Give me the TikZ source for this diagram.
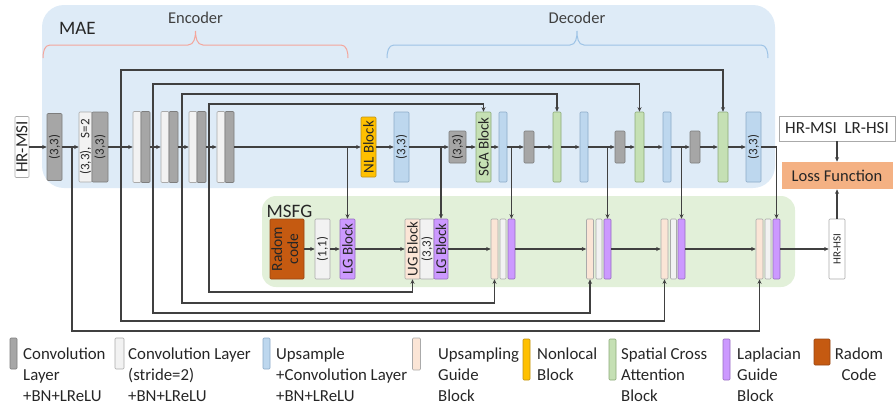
\documentclass[tikz,border=0pt]{standalone}
\usepackage{fontspec}
\setmainfont{Carlito}
\usepackage{graphicx}
\usetikzlibrary{arrows.meta}
\newcommand{\vtext}[1]{\rotatebox{90}{#1}}
\newcommand{\fsz}[1]{\fontsize{#1}{#1}\selectfont}

\definecolor{cMAE}{RGB}{222,235,247}
\definecolor{cMSFG}{RGB}{226,240,217}
\definecolor{cWire}{RGB}{64,64,64}
\definecolor{cConv}{RGB}{166,166,166}
\definecolor{cConvD}{RGB}{125,125,125}
\definecolor{cLight}{RGB}{242,242,242}
\definecolor{cLightD}{RGB}{170,170,170}
\definecolor{cUp}{RGB}{189,215,238}
\definecolor{cUpD}{RGB}{140,170,200}
\definecolor{cNL}{RGB}{255,192,0}
\definecolor{cNLD}{RGB}{190,145,20}
\definecolor{cSCA}{RGB}{197,224,180}
\definecolor{cSCAD}{RGB}{140,170,120}
\definecolor{cLG}{RGB}{204,153,255}
\definecolor{cLGD}{RGB}{150,110,190}
\definecolor{cUG}{RGB}{251,229,214}
\definecolor{cRC}{RGB}{197,90,17}
\definecolor{cRCD}{RGB}{150,70,20}
\definecolor{cLoss}{RGB}{244,177,131}
\definecolor{cEnc}{RGB}{244,165,155}
\definecolor{cDec}{RGB}{157,195,230}

\begin{document}
\begin{tikzpicture}[x=1pt,y=-1pt,>={Stealth[length=4.5pt,width=4pt]},
  wire/.style={draw=cWire,line width=1.2pt},
  blk/.style={line width=0.6pt,rounded corners=1pt,inner sep=0pt,font=\fsz{13},text=black!85},
  convblk/.style={blk,fill=cConv,draw=cConvD},
  lightblk/.style={blk,fill=cLight,draw=cLightD},
  upblk/.style={blk,fill=cUp,draw=cUpD},
  nlblk/.style={blk,fill=cNL,draw=cNLD,font=\fsz{15}},
  scablk/.style={blk,fill=cSCA,draw=cSCAD,font=\fsz{15}},
  lgblk/.style={blk,fill=cLG,draw=cLGD,font=\fsz{15}},
  ugblk/.style={blk,fill=cUG,draw=cLightD,font=\fsz{15}},
  rcblk/.style={blk,fill=cRC,draw=cRCD},
  ioblk/.style={blk,fill=white,draw=cLightD},
  legtext/.style={anchor=north west,inner sep=0pt,align=left,font=\fontsize{16.8}{21}\selectfont,text=black!85}]
  \useasboundingbox (0,0) rectangle (896,407);
  % regions
  \fill[cMAE,rounded corners=22] (42,5) rectangle (775,188);
  \fill[cMSFG,rounded corners=14] (262,196) rectangle (795,287);
  \node[font=\fsz{19},anchor=base,text=black!85] (mae) at (77.5,34) {MAE};
  \node[font=\fsz{16.5},anchor=base,text=black!75] (enc) at (195.5,23) {Encoder};
  \node[font=\fsz{16.5},anchor=base,text=black!75] (dec) at (577,23) {Decoder};
  \node[font=\fsz{19},anchor=base,text=black!85] (msfg) at (289.5,217) {MSFG};
  \draw[cEnc,line width=1pt] (43,58) to[out=90,in=180] (50,45) -- (188,45) to[out=0,in=-90] (195.5,31)
     to[out=-90,in=180] (203,45) -- (341,45) to[out=0,in=90] (348,58);
  \draw[cDec,line width=1pt] (387,58) to[out=90,in=180] (394,45) -- (570,45) to[out=0,in=-90] (577,31)
     to[out=-90,in=180] (584,45) -- (761,45) to[out=0,in=90] (768,58);

  % encoder
  \node[ioblk,minimum width=14,minimum height=61,font=\fsz{17}] (in) at (22,147) {\vtext{HR-MSI}};
  \node[convblk,minimum width=15,minimum height=67] (c1) at (54.5,147) {\vtext{(3,3)}};
  \node[lightblk,minimum width=13,minimum height=70] (b2a) at (85.5,147) {\vtext{(3,3),\ \ \ S=2}};
  \node[convblk,minimum width=16,minimum height=70] (b2) at (100,147) {\vtext{(3,3)}};
  \node[lightblk,minimum width=8,minimum height=71] (b3a) at (137,147) {};
  \node[convblk,minimum width=9,minimum height=71] (b3) at (145.5,147) {};
  \node[lightblk,minimum width=8,minimum height=71] (b4a) at (165,147) {};
  \node[convblk,minimum width=9,minimum height=71] (b4) at (173.5,147) {};
  \node[lightblk,minimum width=8,minimum height=71] (b5a) at (193,147) {};
  \node[convblk,minimum width=9,minimum height=71] (b5) at (201.5,147) {};
  \node[lightblk,minimum width=8,minimum height=71] (b6a) at (221,147) {};
  \node[convblk,minimum width=9,minimum height=71] (b6) at (229.5,147) {};

  % decoder
  \node[nlblk,minimum width=15,minimum height=60] (nl) at (368.5,147) {\vtext{NL Block}};
  \node[upblk,minimum width=15,minimum height=70] (up1) at (401.5,147) {\vtext{(3,3)}};
  \node[convblk,minimum width=17,minimum height=32] (cv1) at (457.5,147) {\vtext{(3,3)}};
  \node[scablk,minimum width=15,minimum height=70] (sca) at (483.5,147) {\vtext{SCA Block}};
  \node[upblk,minimum width=8,minimum height=70] (up2) at (503,147) {};
  \node[convblk,minimum width=10,minimum height=32] (cv2) at (529,147) {};
  \node[scablk,minimum width=8,minimum height=70] (sa2) at (557,147) {};
  \node[upblk,minimum width=8,minimum height=70] (up3) at (584,147) {};
  \node[convblk,minimum width=10,minimum height=32] (cv3) at (620,147) {};
  \node[scablk,minimum width=9,minimum height=70] (sa3) at (639.5,147) {};
  \node[upblk,minimum width=8,minimum height=70] (up4) at (667,147) {};
  \node[convblk,minimum width=10,minimum height=32] (cv4) at (695,147) {};
  \node[scablk,minimum width=10,minimum height=70] (sa4) at (723,147) {};
  \node[upblk,minimum width=15,minimum height=70] (up5) at (753.5,147) {\vtext{(3,3)}};

  % MSFG
  \node[rcblk,minimum width=34,minimum height=60] (rc) at (287,249)
     {\vtext{\fontsize{15.5}{16}\selectfont\begin{tabular}{@{}c@{}}Radom\\code\end{tabular}}};
  \node[lightblk,minimum width=15,minimum height=60] (c11) at (322.5,249) {\vtext{(1,1)}};
  \node[lgblk,minimum width=15,minimum height=60] (lg1) at (347.5,249) {\vtext{LG Block}};
  \node[ugblk,minimum width=15,minimum height=60] (ug1) at (412.5,249) {\vtext{UG Block}};
  \node[lightblk,minimum width=14,minimum height=60] (c33) at (427,249) {\vtext{(3,3)}};
  \node[lgblk,minimum width=14,minimum height=60] (lg2) at (441,249) {\vtext{LG Block}};
  \node[ugblk,minimum width=7,minimum height=60] (u2) at (494.5,249) {};
  \node[lightblk,minimum width=6,minimum height=60] (g2) at (503,249) {};
  \node[lgblk,minimum width=7,minimum height=60] (l2) at (511.5,249) {};
  \node[ugblk,minimum width=7,minimum height=60] (u3) at (590,249) {};
  \node[lightblk,minimum width=6,minimum height=60] (g3) at (599,249) {};
  \node[lgblk,minimum width=7,minimum height=60] (l3) at (607.5,249) {};
  \node[ugblk,minimum width=7,minimum height=60] (u4) at (664.5,249) {};
  \node[lightblk,minimum width=6,minimum height=60] (g4) at (673.5,249) {};
  \node[lgblk,minimum width=7,minimum height=60] (l4) at (681.5,249) {};
  \node[ugblk,minimum width=7,minimum height=60] (u5) at (759.5,249) {};
  \node[lightblk,minimum width=6,minimum height=60] (g5) at (768,249) {};
  \node[lgblk,minimum width=7,minimum height=60] (l5) at (776.5,249) {};

  % output side
  \node[ioblk,minimum width=16,minimum height=60,font=\fsz{11}] (hrhsi) at (837,249) {\vtext{HR-HSI}};
  \node[ioblk,rounded corners=0pt,minimum width=116,minimum height=25,font=\fsz{17}] (pair) at (837,128.5) {HR-MSI\ \ LR-HSI};
  \node[blk,rounded corners=0pt,fill=cLoss,minimum width=111,minimum height=27,font=\fsz{16.5}] (loss) at (837,175.5) {Loss Function};

  % taps on the main line
  \coordinate (e0) at (72,147);
  \coordinate (e1) at (121,147);
  \coordinate (e2) at (153,147);
  \coordinate (e3) at (182,147);
  \coordinate (e4) at (209,147);
  \coordinate (d1) at (347.5,147);
  \coordinate (d2) at (441,147);
  \coordinate (d3) at (511.5,147);
  \coordinate (d4) at (607.5,147);
  \coordinate (d5) at (681.5,147);

  % main line
  \draw[wire,->] (in.east) -- (c1.west);
  \draw[wire,->] (c1.east) -- (b2a.west);
  \draw[wire,->] (b2.east) -- (b3a.west);
  \draw[wire,->] (b3.east) -- (b4a.west);
  \draw[wire,->] (b4.east) -- (b5a.west);
  \draw[wire,->] (b5.east) -- (b6a.west);
  \draw[wire,->] (b6.east) -- (nl.west);
  \draw[wire,->] (nl.east) -- (up1.west);
  \draw[wire,->] (up1.east) -- (cv1.west);
  \draw[wire,->] (cv1.east) -- (sca.west);
  \draw[wire,->] (sca.east) -- (up2.west);
  \draw[wire,->] (up2.east) -- (cv2.west);
  \draw[wire,->] (cv2.east) -- (sa2.west);
  \draw[wire,->] (sa2.east) -- (up3.west);
  \draw[wire,->] (up3.east) -- (cv3.west);
  \draw[wire,->] (cv3.east) -- (sa3.west);
  \draw[wire,->] (sa3.east) -- (up4.west);
  \draw[wire,->] (up4.east) -- (cv4.west);
  \draw[wire,->] (cv4.east) -- (sa4.west);
  \draw[wire,->] (sa4.east) -- (up5.west);

  % skips to the decoder
  \draw[wire,->] (e4) -- ++(0,-43) -| (sca.north);
  \draw[wire,->] (e3) -- ++(0,-53) -| (sa2.north);
  \draw[wire,->] (e2) -- ++(0,-63) -| (sa3.north);
  \draw[wire,->] (e1) -- ++(0,-77) -| (sa4.north);

  % skips to the MSFG
  \draw[wire,->] (e4) -- ++(0,145) -| (ug1.south);
  \draw[wire,->] (e3) -- ++(0,156) -| (u2.south);
  \draw[wire,->] (e2) -- ++(0,166) -| (u3.south);
  \draw[wire,->] (e1) -- ++(0,174) -| (u4.south);
  \draw[wire,->] (e0) -- ++(0,184) -| (u5.south);
  \draw[wire,->] (d1) -- (lg1.north);
  \draw[wire,->] (d2) -- (lg2.north);
  \draw[wire,->] (d3) -- (l2.north);
  \draw[wire,->] (d4) -- (l3.north);
  \draw[wire,->] (d5) -- (l4.north);
  \draw[wire,->] (up5.east) -| (l5.north);

  % MSFG line
  \draw[wire,->] (rc.east) -- (c11.west);
  \draw[wire,->] (c11.east) -- (lg1.west);
  \draw[wire,->] (lg1.east) -- (ug1.west);
  \draw[wire,->] (lg2.east) -- (u2.west);
  \draw[wire,->] (l2.east) -- (u3.west);
  \draw[wire,->] (l3.east) -- (u4.west);
  \draw[wire,->] (l4.east) -- (u5.west);
  \draw[wire,->] (l5.east) -- (hrhsi.west);
  \draw[wire,->] (hrhsi.north) -- (loss.south);
  \draw[wire,->] (pair.south) -- (loss.north);

  % legend
  \node[convblk,minimum width=7,minimum height=31] (k1) at (13.5,353.5) {};
  \node[legtext] (t1) at (23,344.3) {\strut Convolution\\Layer\\+BN+LReLU};
  \node[lightblk,minimum width=9,minimum height=31] (k2) at (119.5,353.5) {};
  \node[legtext] (t2) at (128,344.3) {\strut Convolution Layer\\(stride=2)\\+BN+LReLU};
  \node[upblk,minimum width=7,minimum height=31] (k3) at (266.5,353.5) {};
  \node[legtext] (t3) at (276,344.3) {\strut Upsample\\+Convolution Layer\\+BN+LReLU};
  \node[ugblk,minimum width=8,minimum height=32] (k4) at (416.5,354) {};
  \node[legtext] (t4) at (438,344.3) {\strut Upsampling\\Guide\\Block};
  \node[nlblk,minimum width=7,minimum height=41] (k5) at (526.5,359.5) {};
  \node[legtext] (t5) at (537,344.3) {\strut Nonlocal\\Block};
  \node[scablk,minimum width=7,minimum height=41] (k6) at (612.5,359.5) {};
  \node[legtext] (t6) at (621,344.3) {\strut Spatial Cross\\Attention\\Block};
  \node[lgblk,minimum width=7,minimum height=41] (k7) at (726.5,359.5) {};
  \node[legtext] (t7) at (737,344.3) {\strut Laplacian\\Guide\\Block};
  \node[rcblk,minimum width=16,minimum height=26] (k8) at (822,352) {};
  \node[legtext,anchor=north,align=center] (t8) at (859,344.3) {\strut Radom\\Code};
\end{tikzpicture}
\end{document}
